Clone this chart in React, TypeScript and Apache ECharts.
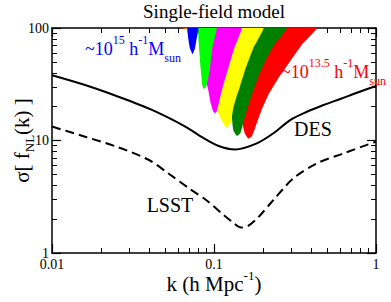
import React, { useEffect, useRef } from 'react';
import * as echarts from 'echarts';

// ---- data ----
const xTickLabels = ['0.01', '0.1', '1'];
const yTickLabels = ['1', '10', '100'];

const desK = [0.01, 0.016, 0.0257, 0.0414, 0.0665, 0.0843, 0.1069, 0.1349, 0.1837, 0.2327, 0.2951, 0.3744, 0.4742, 0.6015, 0.763, 1];
const desS = [38.0, 31.1, 24.5, 18.7, 13.3, 10.7, 8.93, 8.32, 9.44, 11.6, 15.2, 18.0, 20.7, 23.4, 26.6, 30.5];

const lsstK = [0.01, 0.016, 0.0257, 0.0402, 0.0519, 0.071, 0.0901, 0.1121, 0.131, 0.1469, 0.1623, 0.1872, 0.2327, 0.3093, 0.4317, 0.6304, 1];
const lsstS = [13.3, 10.8, 8.7, 6.64, 5.14, 3.71, 2.93, 2.24, 1.87, 1.685, 1.74, 2.07, 2.96, 4.61, 6.27, 7.69, 9.76];

// mass-bin bands (outline: left edge top -> tip -> right edge top)
const redK = [0.0599, 0.0763, 0.0945, 0.117, 0.1349, 0.1448, 0.1496, 0.1518, 0.1555, 0.163, 0.1718, 0.1793, 0.1953, 0.2167, 0.2499, 0.2951, 0.3486, 0.4317];
const redS = [100, 96.0, 90.3, 78.2, 51.9, 22.9, 15.85, 12.9, 11.4, 10.37, 10.96, 12.9, 18.2, 25.5, 35.9, 50.6, 71.0, 100];

const greenK = [0.1014, 0.1121, 0.1221, 0.1287, 0.1305, 0.132, 0.1387, 0.1458, 0.1522, 0.1577, 0.1694, 0.1845, 0.2068, 0.235, 0.2817];
const greenS = [100, 51.9, 22.9, 16.5, 13.3, 12.15, 10.96, 11.66, 14.6, 17.6, 24.4, 34.5, 50.6, 70.6, 100];

const yellowK = [0.0634, 0.0774, 0.088, 0.0945, 0.1029, 0.1051, 0.1105, 0.1158, 0.1195, 0.1247, 0.1274, 0.1316, 0.1387, 0.1438, 0.1555, 0.175, 0.2018];
const yellowS = [100, 96.8, 94.0, 51.9, 22.9, 18.3, 15.5, 13.7, 12.8, 13.7, 14.6, 19.45, 25.4, 29.3, 42.3, 66.4, 100];

const magentaK = [0.0819, 0.0855, 0.0892, 0.0922, 0.0954, 0.0986, 0.1014, 0.1043, 0.1081, 0.1129, 0.1226, 0.1335, 0.1483];
const magentaS = [100, 57.5, 34.5, 28.1, 21.4, 18.3, 17.4, 18.3, 22.9, 29.3, 44.1, 66.4, 100];

const limeK = [0.08, 0.0827, 0.0846, 0.0864, 0.0892, 0.0918, 0.0945, 0.0976, 0.1039];
const limeS = [100, 44.1, 31.1, 28.7, 29.9, 34.5, 44.1, 66.4, 100];

const blueK = [0.0684, 0.0696, 0.071, 0.0738, 0.0763, 0.0779, 0.0802];
const blueS = [100, 78.2, 66.0, 58.4, 66.0, 78.2, 100];

const bandData = [
  [redK, redS],
  [greenK, greenS],
  [yellowK, yellowS],
  [magentaK, magentaS],
  [limeK, limeS],
  [blueK, blueS],
];
const bandColors = ['#ff0000', '#008000', '#ffff00', '#ff00ff', '#00ff00', '#0000ff'];

const FONT = 'Liberation Serif';

function pickLabel(list: string[], v: number) {
  const hit = list.find((l) => Math.abs(Math.log10(parseFloat(l)) - Math.log10(v)) < 0.01);
  return hit ?? '';
}

export default function App() {
  const ref = useRef<HTMLDivElement>(null);
  useEffect(() => {
    document.body.style.margin = '0';
    if (!ref.current) return;
    const chart = echarts.init(ref.current, undefined, { renderer: 'svg' });

    const axisCommon = {
      type: 'log' as const,
      logBase: 10,
      axisLine: { show: true, onZero: false, lineStyle: { color: '#000', width: 1.5 } },
      axisTick: { show: true, inside: true, length: 9, lineStyle: { color: '#000', width: 1.2 } },
      minorTick: { show: true, splitNumber: 9, length: 5, lineStyle: { color: '#000', width: 1 } },
      splitLine: { show: false },
      minorSplitLine: { show: false },
    };

    const supRich = (color: string) => ({
      n: { fontSize: 18, fontFamily: FONT, fill: color, lineHeight: 30 },
      sup: { fontSize: 12, fontFamily: FONT, fill: color, verticalAlign: 'top', lineHeight: 12 },
      sub: { fontSize: 12, fontFamily: FONT, fill: color, verticalAlign: 'bottom', lineHeight: 12 },
    });

    chart.setOption({
      animation: false,
      backgroundColor: '#fff',
      grid: { left: 52, right: 15, top: 28, bottom: 49, containLabel: false, outerBoundsMode: 'none' },
      xAxis: [
        {
          ...axisCommon,
          min: 0.01,
          max: 1,
          position: 'bottom',
          axisLabel: {
            color: '#000', fontSize: 14, fontFamily: FONT, margin: 4,
            showMinLabel: true, showMaxLabel: true,
            formatter: (v: number) => pickLabel(xTickLabels, v),
          },
          name: '{n|k (h Mpc}{sup|-1}{n|)}',
          nameLocation: 'middle',
          nameMoveOverlap: false,
          nameGap: 16,
          nameTextStyle: {
            color: '#000', fontFamily: FONT, fontSize: 21,
            rich: {
              n: { fontSize: 21, fontFamily: FONT, color: '#000', lineHeight: 30 },
              sup: { fontSize: 13, fontFamily: FONT, color: '#000', verticalAlign: 'top', lineHeight: 13 },
            },
          },
        },
        {
          ...axisCommon,
          min: 0.01,
          max: 1,
          position: 'top',
          axisLabel: { show: false },
        },
      ],
      yAxis: [
        {
          ...axisCommon,
          min: 1,
          max: 100,
          position: 'left',
          axisLabel: {
            color: '#000', fontSize: 14, fontFamily: FONT, margin: 3,
            showMinLabel: true, showMaxLabel: true,
            formatter: (v: number) => pickLabel(yTickLabels, v),
          },
          name: '{n|σ[ f}{sub|NL}{n|(k) ]}',
          nameLocation: 'middle',
          nameMoveOverlap: false,
          nameRotate: 90,
          nameGap: 16,
          nameTextStyle: {
            color: '#000', fontFamily: FONT, fontSize: 21,
            rich: {
              n: { fontSize: 21, fontFamily: FONT, color: '#000', lineHeight: 28 },
              sub: { fontSize: 13, fontFamily: FONT, color: '#000', verticalAlign: 'bottom', lineHeight: 13 },
            },
          },
        },
        {
          ...axisCommon,
          min: 1,
          max: 100,
          position: 'right',
          axisLabel: { show: false },
        },
      ],
      series: [
        {
          type: 'custom',
          clip: true,
          xAxisIndex: 0,
          yAxisIndex: 0,
          dimensions: ['k', 's', 'band'],
          encode: { x: 0, y: 1 },
          data: bandData.map(([ks, ss], i) => [ks[0], ss[0], i]),
          renderItem: (params: any, api: any) => {
            const i = api.value(2);
            const [ks, ss] = bandData[i];
            const points = ks.map((k: number, j: number) => api.coord([k, ss[j]]));
            return {
              type: 'polygon',
              shape: { points, smooth: 0.08 },
              style: { fill: bandColors[i], stroke: null },
            };
          },
          silent: true,
        },
        {
          type: 'line',
          data: desK.map((k, i) => [k, desS[i]]),
          smooth: 0.3,
          showSymbol: false,
          lineStyle: { color: '#000', width: 2 },
          silent: true,
        },
        {
          type: 'line',
          data: lsstK.map((k, i) => [k, lsstS[i]]),
          smooth: 0.3,
          showSymbol: false,
          lineStyle: { color: '#000', width: 2, type: [9, 5] },
          silent: true,
        },
      ],
      graphic: [
        {
          type: 'text', x: 214, y: 11, z: 100,
          style: { text: 'Single-field model', fontSize: 19, fontFamily: FONT, fill: '#000', align: 'center', verticalAlign: 'middle' },
        },
        {
          type: 'text', x: 85, y: 49, z: 100,
          style: {
            text: '{n|~10}{sup|15}{n| h}{sup|-1}{n|M}{sub|sun}',
            rich: supRich('#0000ff'), fill: '#0000ff', fontSize: 18, fontFamily: FONT, verticalAlign: 'middle',
          },
        },
        {
          type: 'text', x: 281, y: 72, z: 100,
          style: {
            text: '{n|~10}{sup|13.5}{n| h}{sup|-1}{n|M}{sub|sun}',
            rich: supRich('#ff0000'), fill: '#ff0000', fontSize: 18, fontFamily: FONT, verticalAlign: 'middle',
          },
        },
        {
          type: 'text', x: 313, y: 129, z: 100,
          style: { text: 'DES', fontSize: 20, fontFamily: FONT, fill: '#000', align: 'center', verticalAlign: 'middle' },
        },
        {
          type: 'text', x: 170, y: 205, z: 100,
          style: { text: 'LSST', fontSize: 20, fontFamily: FONT, fill: '#000', align: 'center', verticalAlign: 'middle' },
        },
      ],
    });
    return () => chart.dispose();
  }, []);
  return <div ref={ref} style={{ width: 391, height: 302 }} />;
}
